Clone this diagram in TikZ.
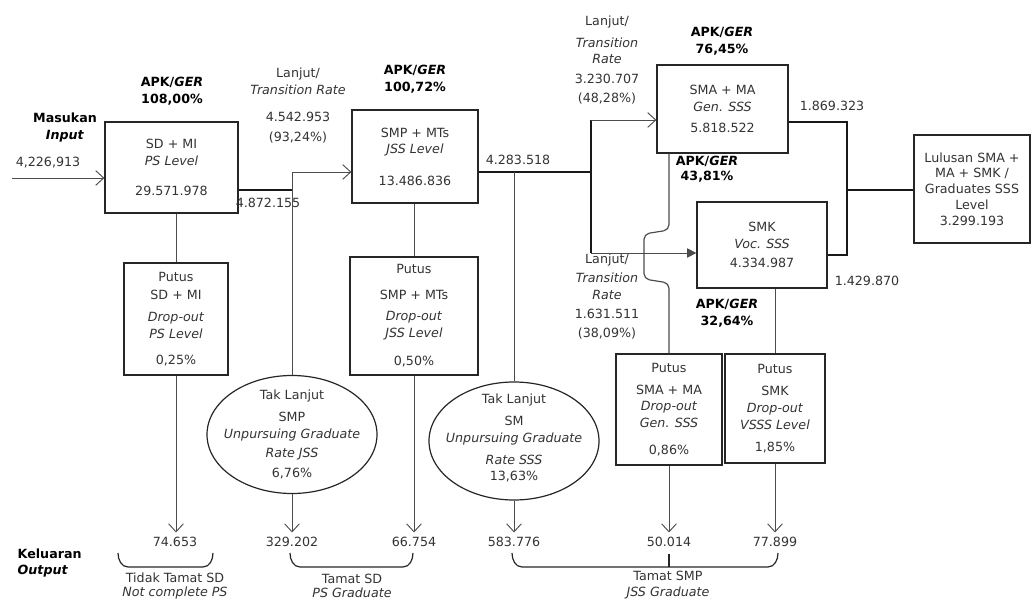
\documentclass[tikz,border=0pt]{standalone}
\usepackage{fontspec}
\setmainfont{DejaVu Sans}
\usepackage{tikz}
\usetikzlibrary{arrows.meta, positioning, calc, shapes.geometric}

\begin{document}
\begin{tikzpicture}[x=0.75pt, y=-0.75pt,
    every node/.style={font=\fontsize{9.5}{12.5}\selectfont, text=black!80, align=center},
    box/.style={draw=black!85, line width=0.9pt, inner sep=0pt},
    oval/.style={ellipse, draw=black!85, line width=0.9pt, inner sep=0pt},
    hdr/.style={font=\fontsize{9.5}{12.5}\selectfont\bfseries, text=black},
    link/.style={draw=black!70, line width=0.7pt},
    trunk/.style={draw=black!90, line width=1.3pt},
    flow/.style={link, -{Straight Barb[length=6pt, width=11pt]}}]
    \useasboundingbox (0,0) rectangle (1032,602);

    % Level boxes
    \node[box, minimum width=99.75pt, minimum height=68.25pt] (sd) at (171.5,167.5) {SD + MI\\\textit{PS Level}\\[10pt]29.571.978};
    \node[box, minimum width=94.5pt, minimum height=69.75pt] (smp) at (415,156.5) {SMP + MTs\\\textit{JSS Level}\\[11pt]13.486.836};
    \node[box, minimum width=98.25pt, minimum height=66pt] (sma) at (722.5,109) {SMA + MA\\\textit{Gen. SSS}\\[3pt]5.818.522};
    \node[box, minimum width=97.5pt, minimum height=64.5pt] (smk) at (762,245) {SMK\\\textit{Voc. SSS}\\[2pt]4.334.987};
    \node[box, minimum width=87pt, minimum height=81pt, font=\fontsize{9.5}{11.8}\selectfont] (lulus) at (972,189) {Lulusan SMA +\\MA + SMK /\\Graduates SSS\\Level\\3.299.193};

    % Drop-out boxes
    \node[box, minimum width=78pt, minimum height=84pt] (psd) at (176,319) {Putus\\[1pt]SD + MI\\[4pt]\textit{Drop-out}\\\textit{PS Level}\\[7pt]0,25\%};
    \node[box, minimum width=96pt, minimum height=88.5pt] (psmp) at (414,316) {Putus\\[7pt]SMP + MTs\\[3pt]\textit{Drop-out}\\\textit{JSS Level}\\[9pt]0,50\%};
    \node[box, minimum width=79.5pt, minimum height=83.25pt] (psma) at (669,409.5) {Putus\\[4pt]SMA + MA\\\textit{Drop-out}\\\textit{Gen. SSS}\\[8pt]0,86\%};
    \node[box, minimum width=75pt, minimum height=81.75pt] (psmk) at (775,408.5) {Putus\\[4pt]SMK\\\textit{Drop-out}\\\textit{VSSS Level}\\[4pt]1,85\%};

    % Not continuing
    \node[oval, minimum width=127.5pt, minimum height=88.5pt] (tsmp) at (292,434.5) {};
    \node (tsmp-txt) at (tsmp) {Tak Lanjut\\[4pt]SMP\\\textit{Unpursuing Graduate}\\[2pt]\textit{Rate JSS}\\[2pt]6,76\%};
    \node[oval, minimum width=127.5pt, minimum height=88.5pt] (tsm) at (514,441) {};
    \node (tsm-txt) at (514,438) {Tak Lanjut\\[4pt]SM\\\textit{Unpursuing Graduate}\\[4pt]\textit{Rate SSS}\\13,63\%};

    % Rates
    \node[hdr] (apk1) at (172,91.5) {APK/\textit{GER}\\108,00\%};
    \node[hdr] (apk2) at (415,79) {APK/\textit{GER}\\100,72\%};
    \node[hdr] (apk3) at (722,41.5) {APK/\textit{GER}\\76,45\%};
    \node[hdr, font=\fontsize{9.5}{11.5}\selectfont\bfseries] (apk4) at (707,169.5) {APK/\textit{GER}\\43,81\%};
    \node[hdr] (apk5) at (727,313.5) {APK/\textit{GER}\\32,64\%};
    \node (lj1) at (298,105.5) {Lanjut/\\\textit{Transition Rate}\\[8pt]4.542.953\\[2pt](93,24\%)};
    \node (lj2) at (607,60) {Lanjut/\\[4pt]\textit{Transition}\\\textit{Rate}\\[2pt]3.230.707\\[2pt](48,28\%)};
    \node (lj3) at (607,296.5) {Lanjut/\\[2pt]\textit{Transition}\\\textit{Rate}\\[2pt]1.631.511\\[2pt](38,09\%)};

    % Input
    \node[hdr] (inlbl) at (65,127.5) {Masukan\\\textit{Input}};
    \node (inval) at (48,163) {4,226,913};
    \coordinate (in) at (12,178);
    \draw[flow] (in) -- (in -| sd.west);

    % SD -> SMP
    \coordinate (j1) at (292,190);
    \coordinate (j1t) at (292,172);
    \draw[trunk] (sd.east |- j1) -- (j1);
    \draw[link] (j1t) -- (tsmp.north);
    \draw[flow] (j1t) -- (j1t -| smp.west);
    \node (n1) at (268,203) {4.872.155};

    % SMP -> SMA / SMK
    \coordinate (j2) at (591,172);
    \coordinate (j2t) at (591,120);
    \coordinate (j2b) at (591,253);
    \draw[trunk] (smp.east |- j2) -- (j2);
    \draw[trunk] (j2t) -- (j2b);
    \draw[flow] (j2t) -- (j2t -| sma.west);
    \draw[link, -{Triangle[length=7pt, width=7pt]}] (j2b) -- (j2b -| smk.west);
    \draw[link] (tsm.north |- j2) -- (tsm.north);
    \node (n2) at (518,160) {4.283.518};

    % SMA + SMK -> graduates
    \coordinate (j3t) at (847,122);
    \coordinate (j3) at (847,190);
    \coordinate (j3b) at (847,255);
    \draw[trunk] (j3t -| sma.east) -- (j3t) -- (j3b) -- (j3b -| smk.east);
    \draw[trunk] (j3) -- (j3 -| lulus.west);
    \node (n3) at (832,106) {1.869.323};
    \node (n4) at (867,281) {1.429.870};

    % Drop-out links
    \draw[link] (psd.north |- sd.south) -- (psd.north);
    \draw[link] (psmp.north |- smp.south) -- (psmp.north);
    \draw[link, line width=0.9pt, rounded corners=4pt] (psma.north |- sma.south) -- (669,230) -- (644,234) -- (644,279) -- (669,283) -- (psma.north);
    \draw[link] (psmk.north |- smk.south) -- (psmk.north);

    % Output
    \node[hdr, anchor=west, align=left] (outlbl) at (13,563) {Keluaran\\\textit{Output}};
    \node (o1) at (175,542) {74.653};
    \node (o2) at (292,542) {329.202};
    \node (o3) at (414,542) {66.754};
    \node (o4) at (514,542) {583.776};
    \node (o5) at (669,542) {50.014};
    \node (o6) at (775,542) {77.899};
    \draw[flow] (psd.south) -- (psd.south |- o1.north);
    \draw[flow] (tsmp.south) -- (tsmp.south |- o2.north);
    \draw[flow] (psmp.south) -- (psmp.south |- o3.north);
    \draw[flow] (tsm.south) -- (tsm.south |- o4.north);
    \draw[flow] (psma.south) -- (psma.south |- o5.north);
    \draw[flow] (psmk.south) -- (psmk.south |- o6.north);

    % Braces
    \draw[black!85, line width=0.9pt] (118,553) to[out=-90, in=180] (128,567) -- (203,567) to[out=0, in=-90] (213,553);
    \draw[black!85, line width=0.9pt] (290,553) to[out=-90, in=180] (300,567) -- (403,567) to[out=0, in=-90] (413,553);
    \draw[black!85, line width=0.9pt] (512,553) to[out=-90, in=180] (522,567) -- (768,567) to[out=0, in=-90] (778,553);
    \draw[black!85, line width=0.9pt] (669,567) -- (669,554);
    \node[font=\fontsize{9.5}{11}\selectfont] (b1) at (175,586) {Tidak Tamat SD\\\textit{Not complete PS}};
    \node[font=\fontsize{9.5}{11}\selectfont] (b2) at (352,586) {Tamat SD\\\textit{PS Graduate}};
    \node (b3) at (668,585) {Tamat SMP\\\textit{JSS Graduate}};
\end{tikzpicture}
\end{document}
